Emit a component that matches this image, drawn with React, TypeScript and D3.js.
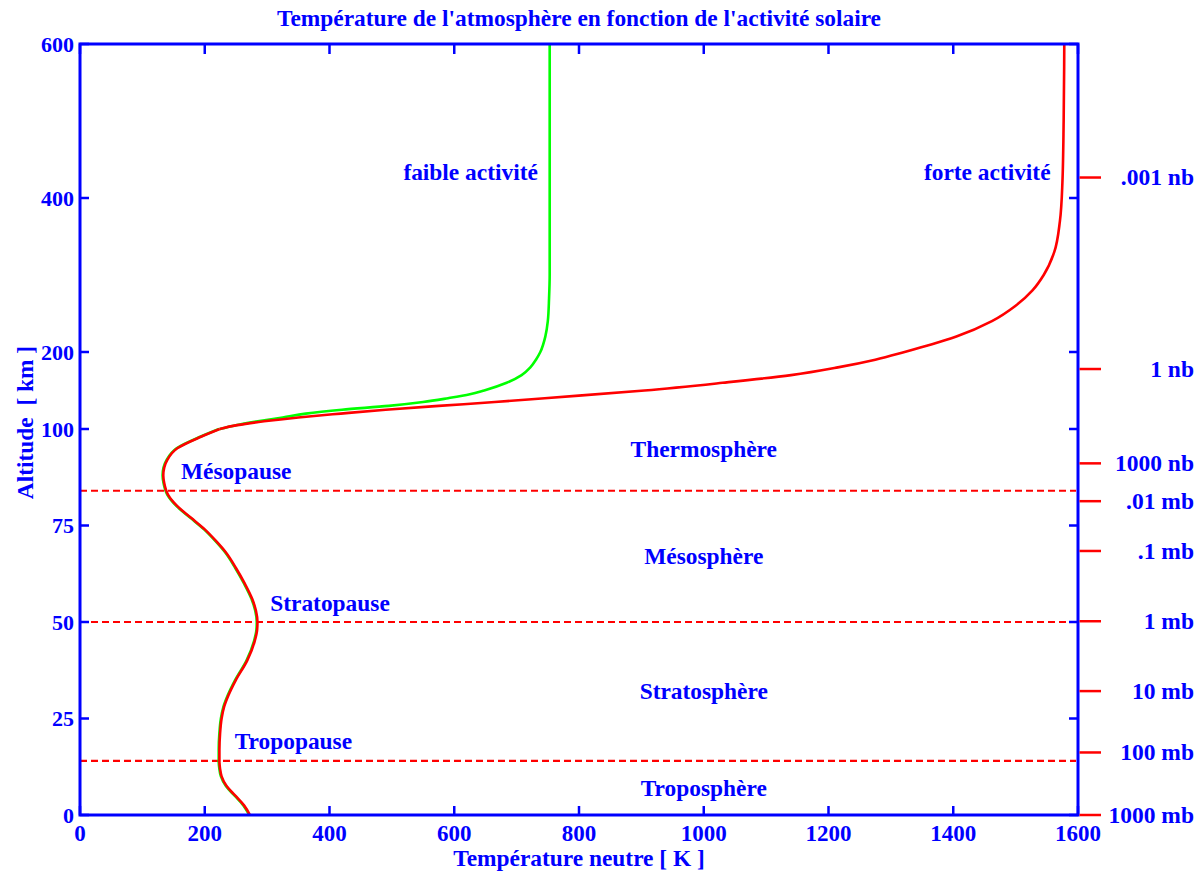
import React from "react";
import * as d3 from "d3";

const W = 1203;
const H = 873;

// axis ticks
const tempTicks = [0, 200, 400, 600, 800, 1000, 1200, 1400, 1600];
const altTicks = [0, 25, 50, 75, 100, 200, 400, 600];

// pressure scale on the right (label, altitude km)
const pressureLabels = [".001 nb", "1 nb", "1000 nb", ".01 mb", ".1 mb", "1 mb", "10 mb", "100 mb", "1000 mb"];
const pressureAlts = [426.6, 177.9, 91.1, 81.3, 68.4, 50.2, 32.1, 16.2, 0];

// shared profile 0-100 km
const altLower = [0, 2.5, 5, 7.5, 10, 12, 14, 17, 21, 25, 28, 31, 35, 40, 45, 48, 50, 53, 56, 60, 64, 68, 71, 74, 77, 80, 83, 86, 88, 90, 92, 95, 98, 100];
const tempLower = [272.5, 263, 249, 235, 227, 224.5, 223.5, 223.5, 224.5, 227, 231, 238, 250, 268, 280, 284, 284.5, 282, 276, 264, 250, 234, 218, 200, 178, 156, 141, 135, 133.5, 135, 140, 156, 194, 224];

// high solar activity (thermosphere)
const altStrong = [100, 105, 110, 115, 120, 125, 130, 135, 140, 150, 160, 170, 180, 190, 200, 210, 220, 240, 260, 280, 300, 330, 370, 420, 500, 600];
const tempStrong = [224, 252, 295, 350, 418, 490, 575, 665, 745, 905, 1030, 1140, 1215, 1275, 1322, 1366, 1405, 1462, 1500, 1527, 1545, 1562, 1571, 1575, 1577, 1578];

// low solar activity (thermosphere)
const altWeak = [100, 105, 110, 115, 120, 125, 130, 135, 140, 145, 150, 160, 170, 180, 190, 200, 220, 240, 270, 300, 400, 600];
const tempWeak = [224, 250, 285, 325, 362, 420, 495, 550, 590, 625, 648, 684, 708, 722, 731, 738, 746, 750, 752, 753, 753, 753];

// layer boundaries (km)
const boundaryAlts = [14, 50, 84];

// annotations: text, temperature, altitude, anchor
const noteTexts = ["faible activité", "forte activité", "Thermosphère", "Mésopause", "Mésosphère", "Stratopause", "Stratosphère", "Tropopause", "Troposphère"];
const noteTemps = [734, 1556, 1000, 162, 1000, 305, 1000, 248, 1000];
const noteAlts = [423.4, 423.4, 92.7, 87, 65, 52.8, 30, 17.1, 4.9];
const noteAnchors = ["end", "end", "middle", "start", "middle", "start", "middle", "start", "middle"];

const BLUE = "#0000ff";
const RED = "#ff0000";
const GREEN = "#00ff00";
const FONT = "'Liberation Serif', 'Times New Roman', serif";

export default function App() {
  const x = d3.scaleLinear().domain([0, 1600]).range([80, 1078]);
  const y = d3.scaleLinear().domain([0, 100, 600]).range([815, 429, 44]);

  const mk = (alts: number[], temps: number[]) => {
    const pts = alts.map((a, i) => [temps[i], a] as [number, number]);
    pts.sort((p, q) => q[1] - p[1]);
    return d3
      .line<[number, number]>()
      .x((d) => x(d[0]))
      .y((d) => y(d[1]))
      .curve(d3.curveMonotoneY)(pts) as string;
  };

  const lower = mk(altLower, tempLower);
  const strong = mk(altStrong, tempStrong);
  const weak = mk(altWeak, tempWeak);

  const [x0, x1] = x.range();
  const yTop = y(600);
  const yBot = y(0);

  return (
    <svg
      width={W}
      height={H}
      style={{ position: "absolute", left: 0, top: 0, background: "#fff" }}
      fontFamily={FONT}
      fontWeight="bold"
    >
      <rect x={0} y={0} width={W} height={H} fill="#fff" />
      {/* title */}
      <text x={(x0 + x1) / 2} y={26} textAnchor="middle" fontSize={23.4} fill={BLUE}>
        Température de l'atmosphère en fonction de l'activité solaire
      </text>

      {/* boundaries */}
      {boundaryAlts.map((a) => (
        <line key={a} x1={x0} x2={x1 - 2} y1={y(a)} y2={y(a)} stroke={RED} strokeWidth={2.2} strokeDasharray="7 4" />
      ))}

      {/* curves */}
      <path d={lower} fill="none" stroke={GREEN} strokeWidth={2.6} transform="translate(-0.7,0)" />
      <path d={weak} fill="none" stroke={GREEN} strokeWidth={2.6} />
      <path d={lower} fill="none" stroke={RED} strokeWidth={2.6} />
      <path d={strong} fill="none" stroke={RED} strokeWidth={2.6} />

      {/* frame */}
      <rect x={x0} y={yTop} width={x1 - x0} height={yBot - yTop} fill="none" stroke={BLUE} strokeWidth={3} />

      {/* x ticks */}
      {tempTicks.map((t) => (
        <g key={t}>
          <line x1={x(t)} x2={x(t)} y1={yBot} y2={yBot - 9} stroke={BLUE} strokeWidth={2.5} />
          <line x1={x(t)} x2={x(t)} y1={yTop} y2={yTop + 10} stroke={BLUE} strokeWidth={2.5} />
          <text x={x(t)} y={841} textAnchor="middle" fontSize={23} fill={BLUE}>
            {t}
          </text>
        </g>
      ))}

      {/* y ticks */}
      {altTicks.map((a) => (
        <g key={a}>
          <line x1={x0} x2={x0 + 9} y1={y(a)} y2={y(a)} stroke={BLUE} strokeWidth={2.5} />
          <line x1={x1} x2={x1 - 9} y1={y(a)} y2={y(a)} stroke={BLUE} strokeWidth={2.5} />
          <text x={74} y={y(a) + 7.5} textAnchor="end" fontSize={22} fill={BLUE}>
            {a}
          </text>
        </g>
      ))}

      {/* pressure ticks */}
      {pressureLabels.map((p, i) => (
        <g key={p}>
          <line x1={x1 + 1.5} x2={1101} y1={y(pressureAlts[i])} y2={y(pressureAlts[i])} stroke={RED} strokeWidth={2.5} />
          <text x={1194} y={y(pressureAlts[i]) + 7.6} textAnchor="end" fontSize={23.5} fill={BLUE}>
            {p}
          </text>
        </g>
      ))}

      {/* annotations */}
      {noteTexts.map((t, i) => (
        <text key={t} x={x(noteTemps[i])} y={y(noteAlts[i])} textAnchor={noteAnchors[i] as any} fontSize={23.4} fill={BLUE}>
          {t}
        </text>
      ))}

      {/* axis titles */}
      <text x={(x0 + x1) / 2} y={866} textAnchor="middle" fontSize={23.4} fill={BLUE}>
        Température neutre [ K ]
      </text>
      <text
        transform={`translate(33,${(yTop + yBot) / 2 - 7}) rotate(-90)`}
        textAnchor="middle"
        fontSize={23.4}
        fill={BLUE}
        style={{ whiteSpace: "pre" }}
      >
        {"Altitude  [ km ]"}
      </text>
    </svg>
  );
}
